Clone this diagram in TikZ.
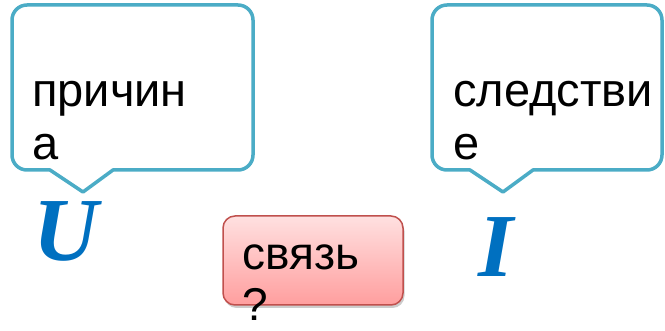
\documentclass[tikz,border=0pt]{standalone}
\usepackage{fontspec}
\setmainfont{Liberation Sans}
\newfontfamily\letterfont{Liberation Serif}
\usepackage{tikz}
\usetikzlibrary{shadows}
\definecolor{calloutblue}{RGB}{75,172,198}
\definecolor{linkred}{RGB}{192,80,77}
\definecolor{letterblue}{RGB}{0,112,192}
\tikzset{
  callout/.style={draw=calloutblue, line width=3.5pt, fill=white, line join=round},
  linkbox/.style={draw=linkred, line width=1.5pt, rounded corners=12pt,
    top color=red!12, bottom color=red!38,
    drop shadow={shadow xshift=1.5pt, shadow yshift=-3pt, opacity=0.4}},
  word/.style={anchor=base west, inner sep=0pt, align=left,
    font=\fontsize{47}{53}\selectfont},
  letter/.style={anchor=base west, inner sep=0pt, text=letterblue,
    font=\fontsize{90}{90}\letterfont\bfseries\itshape}
}
\begin{document}
\begin{tikzpicture}[x=1pt,y=-1pt]
        \useasboundingbox (0,0) rectangle (665,331);
        % callouts
        \draw[callout] (83,192) -- (113,170) [rounded corners=15pt] -- (253,170) -- (253,5) -- (12,5) -- (12,170) [sharp corners] -- (50,170) -- cycle;
        \draw[callout] (503,192) -- (533,170) [rounded corners=15pt] -- (662,170) -- (662,5) -- (432,5) -- (432,170) [sharp corners] -- (470,170) -- cycle;
        \node[word] (cause) at (32,160) {причин\\а};
        \node[word] (effect) at (453,160) {следстви\\е};
        % letters
        \node[letter] (U) at (33,261) {U};
        \node[letter] (I) at (478,277) {I};
        % link box
        \node[linkbox, minimum width=180pt, minimum height=89pt] (link) at (313,260.5) {};
        \node[word, font=\fontsize{46}{51}\selectfont] (linktext) at (242,321) {связь\\?};
\end{tikzpicture}
\end{document}
